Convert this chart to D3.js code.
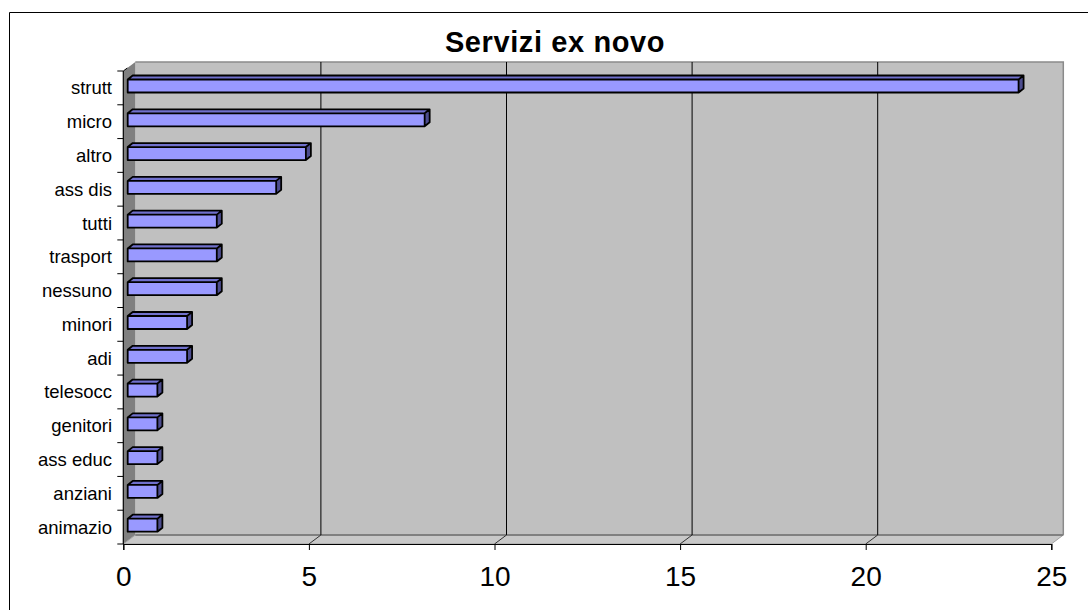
<!DOCTYPE html>
<html>
<head>
<meta charset="utf-8">
<script src="https://cdn.jsdelivr.net/npm/d3@7"></script>
<style>
body { margin: 0; background: #fff; }
svg { display: block; font-family: Arial, "Liberation Sans", sans-serif; }
</style>
</head>
<body>
<div id="visualization"></div>
<script>
var categories = ["strutt", "micro", "altro", "ass dis", "tutti", "trasport", "nessuno",
    "minori", "adi", "telesocc", "genitori", "ass educ", "anziani", "animazio"];
var values = [24, 8, 4.8, 4, 2.4, 2.4, 2.4, 1.6, 1.6, 0.8, 0.8, 0.8, 0.8, 0.8];
var xTicks = [0, 5, 10, 15, 20, 25];
var title = "Servizi ex novo";

var width = 1088,
    height = 610;

var svg = d3.select("#visualization").append("svg")
    .attr("width", width)
    .attr("height", height);

// depth of the 3d box and of the bars
var dx = 12, dy = -9;
var bdx = 5, bdy = -4;
var plotTop = 71, plotBottom = 544;

var x = d3.scaleLinear().domain([0, 25]).range([123.3, 1051.3]);
var y = d3.scaleBand().domain(categories).range([plotTop, plotBottom]);

function pts(a) {
    return a.map(function(p) { return p.join(","); }).join(" ");
}

// frame (only left and top edges are visible)
svg.append("path")
    .attr("d", "M9.5," + height + " L9.5,12.5 L" + width + ",12.5")
    .attr("fill", "none")
    .attr("stroke", "#000")
    .attr("stroke-width", 1);

// back wall
svg.append("polygon")
    .attr("points", pts([[x(0) + dx, plotTop + dy], [x(25) + dx, plotTop + dy], [x(25) + dx, plotBottom + dy], [x(0) + dx, plotBottom + dy]]))
    .attr("fill", "#c0c0c0");
svg.append("path")
    .attr("d", "M" + (x(0) + dx) + "," + (plotTop + dy) + " L" + (x(25) + dx) + "," + (plotTop + dy) + " L" + (x(25) + dx) + "," + (plotBottom + dy))
    .attr("fill", "none")
    .attr("stroke", "#8a8a8a")
    .attr("stroke-width", 1.5);

// left wall
svg.append("polygon")
    .attr("points", pts([[x(0), plotTop], [x(0) + dx, plotTop + dy], [x(0) + dx, plotBottom + dy], [x(0), plotBottom]]))
    .attr("fill", "#808080");

// floor
svg.append("polygon")
    .attr("points", pts([[x(0), plotBottom], [x(0) + dx, plotBottom + dy], [x(25) + dx, plotBottom + dy], [x(25), plotBottom]]))
    .attr("fill", "#c8c8c8")
    .attr("stroke", "#a0a0a0")
    .attr("stroke-width", 1);
svg.append("line")
    .attr("x1", x(0) + dx).attr("x2", x(25) + dx)
    .attr("y1", plotBottom + dy).attr("y2", plotBottom + dy)
    .attr("stroke", "#808080")
    .attr("stroke-width", 2);

// gridlines on the back wall and their trace on the floor
var inner = xTicks.filter(function(d) { return d > 0 && d < 25; });
svg.selectAll(".grid")
    .data(inner)
    .enter().append("line")
    .attr("class", "grid")
    .attr("x1", function(d) { return x(d) + dx; })
    .attr("x2", function(d) { return x(d) + dx; })
    .attr("y1", plotTop + dy)
    .attr("y2", plotBottom + dy)
    .attr("stroke", "#000")
    .attr("stroke-width", 1);
svg.selectAll(".floorTick")
    .data(inner)
    .enter().append("line")
    .attr("class", "floorTick")
    .attr("x1", function(d) { return x(d); })
    .attr("x2", function(d) { return x(d) + dx; })
    .attr("y1", plotBottom)
    .attr("y2", plotBottom + dy)
    .attr("stroke", "#333")
    .attr("stroke-width", 1);

// bars
var barH = 13;
var bar = svg.selectAll(".bar")
    .data(categories)
    .enter().append("g")
    .attr("class", "bar");

bar.each(function(c, i) {
    var g = d3.select(this);
    var x0 = x(0) + 4.4,
        x1 = x(values[i]) + 4.4,
        y0 = y(c) + 8.5,
        y1 = y0 + barH;
    g.append("polygon")
        .attr("points", pts([[x0, y0], [x0 + bdx, y0 + bdy], [x1 + bdx, y0 + bdy], [x1, y0]]))
        .attr("fill", "#7070cc");
    g.append("polygon")
        .attr("points", pts([[x1, y0], [x1 + bdx, y0 + bdy], [x1 + bdx, y1 + bdy], [x1, y1]]))
        .attr("fill", "#4d4d8f");
    g.append("rect")
        .attr("x", x0)
        .attr("y", y0)
        .attr("width", x1 - x0)
        .attr("height", barH)
        .attr("fill", "#9999ff");
    g.append("path")
        .attr("d", "M" + x0 + "," + y1 + " L" + x0 + "," + y0 + " L" + (x0 + bdx) + "," + (y0 + bdy) +
            " L" + (x1 + bdx) + "," + (y0 + bdy) + " L" + (x1 + bdx) + "," + (y1 + bdy) +
            " L" + x1 + "," + y1 + " Z M" + x0 + "," + y0 + " L" + x1 + "," + y0 +
            " L" + (x1 + bdx) + "," + (y0 + bdy) + " M" + x1 + "," + y0 + " L" + x1 + "," + y1)
        .attr("fill", "none")
        .attr("stroke", "#000")
        .attr("stroke-width", 1.8)
        .attr("stroke-linejoin", "round");
});

// axes
var xAxis = svg.append("g")
    .attr("transform", "translate(0," + plotBottom + ")")
    .call(d3.axisBottom(x).tickValues(xTicks).tickSize(6).tickPadding(16));
xAxis.select(".domain").attr("stroke", "#000").attr("stroke-width", 1.2);
xAxis.selectAll("text")
    .attr("font-size", "28px")
    .attr("font-family", "Arial, 'Liberation Sans', sans-serif")
    .attr("fill", "#000");

var yTickVals = categories.map(function(c) { return y(c); }).concat([plotBottom]);
svg.append("line")
    .attr("x1", x(0)).attr("x2", x(0))
    .attr("y1", plotTop).attr("y2", plotBottom)
    .attr("stroke", "#000").attr("stroke-width", 1.2);
svg.append("line")
    .attr("x1", x(0)).attr("x2", x(0) + 4)
    .attr("y1", plotTop).attr("y2", plotTop - 3)
    .attr("stroke", "#000").attr("stroke-width", 1);
svg.selectAll(".yTick")
    .data(yTickVals)
    .enter().append("line")
    .attr("class", "yTick")
    .attr("x1", x(0) - 6).attr("x2", x(0))
    .attr("y1", function(d) { return d; })
    .attr("y2", function(d) { return d; })
    .attr("stroke", "#000");

svg.selectAll(".yLabel")
    .data(categories)
    .enter().append("text")
    .attr("class", "yLabel")
    .attr("x", 112)
    .attr("y", function(d) { return y(d) + y.bandwidth() / 2 + 6.5; })
    .attr("text-anchor", "end")
    .attr("font-size", "18.5px")
    .text(function(d) { return d; });

// title
svg.append("text")
    .attr("x", 555)
    .attr("y", 52)
    .attr("text-anchor", "middle")
    .attr("font-size", "29px")
    .attr("font-weight", "bold")
    .attr("letter-spacing", "0.6px")
    .text(title);
</script>
</body>
</html>
